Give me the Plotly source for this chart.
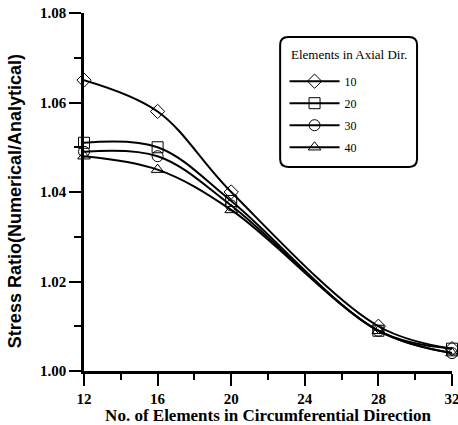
import plotly.graph_objects as go

x_vals = [12, 16, 20, 28, 32]
s10 = [1.065, 1.058, 1.040, 1.010, 1.005]
s20 = [1.051, 1.050, 1.038, 1.009, 1.005]
s30 = [1.049, 1.048, 1.037, 1.009, 1.004]
s40 = [1.048, 1.045, 1.036, 1.009, 1.004]
names = ["10", "20", "30", "40"]
symbols = ["diamond-open", "square-open", "circle-open", "triangle-up-open"]
series = [s10, s20, s30, s40]
legend_title = "Elements in Axial Dir."
x_title = "No. of Elements in Circumferential Direction"
y_title = "Stress Ratio(Numerical/Analytical)"

fig = go.Figure()
for n, s, sym in zip(names, series, symbols):
    fig.add_trace(go.Scatter(
        x=x_vals, y=s, name=n, mode="lines+markers", legendgroup=n,
        cliponaxis=False,
        line=dict(color="black", width=2, shape="spline", smoothing=1.0),
        marker=dict(symbol=sym, size=11, color="black", line=dict(width=1, color="black")),
    ))

serif = "Liberation Serif, Times New Roman, serif"
sans = "Liberation Sans, Arial, sans-serif"

# rounded legend frame (paper coords)
x0, x1, y0, y1 = 0.533, 0.905, 0.570, 0.933
rx, ry = 0.022, 0.022
path = (f"M {x0+rx},{y1} L {x1-rx},{y1} Q {x1},{y1} {x1},{y1-ry} "
        f"L {x1},{y0+ry} Q {x1},{y0} {x1-rx},{y0} L {x0+rx},{y0} "
        f"Q {x0},{y0} {x0},{y0+ry} L {x0},{y1-ry} Q {x0},{y1} {x0+rx},{y1} Z")

fig.update_layout(
    width=458, height=425,
    margin=dict(l=84, r=6, t=13, b=54),
    plot_bgcolor="white", paper_bgcolor="white",
    font=dict(family=serif, color="black"),
    showlegend=True,
    shapes=[dict(type="path", path=path, xref="paper", yref="paper",
                 line=dict(color="black", width=2), fillcolor="rgba(0,0,0,0)", layer="above")],
    annotations=[
        dict(text=legend_title, xref="paper", yref="paper", x=(x0 + x1) / 2, y=0.885,
             xanchor="center", yanchor="middle", showarrow=False,
             font=dict(size=13, family=serif)),
        dict(text="<b>" + y_title + "</b>", xref="paper", yref="paper", x=-0.187, y=0.475,
             xanchor="center", yanchor="middle", showarrow=False, textangle=-90,
             font=dict(size=18, family=sans)),
    ],
    legend=dict(
        x=0.545, y=0.85, xanchor="left", yanchor="top",
        borderwidth=0, bgcolor="rgba(0,0,0,0)",
        font=dict(size=12, family=serif),
        itemwidth=50, tracegroupgap=3,
    ),
    xaxis=dict(
        range=[12, 32], tickvals=[12, 16, 20, 24, 28, 32], automargin=False,
        ticklabeloverflow="allow",
        ticks="outside", ticklen=12, tickwidth=2, tickcolor="black",
        showline=True, linecolor="black", linewidth=2.5, showgrid=False, zeroline=False,
        minor=dict(tickvals=[14, 18, 22, 26, 30], ticks="outside", ticklen=6, tickwidth=2, tickcolor="black"),
        tickfont=dict(size=15, family=serif, weight="bold"),
        title=dict(text="<b>" + x_title + "</b>", font=dict(size=17, family=serif), standoff=2),
    ),
    yaxis=dict(
        range=[1.0, 1.08], tickvals=[1.00, 1.02, 1.04, 1.06, 1.08], tickformat=".2f", automargin=False,
        ticklabeloverflow="allow",
        ticks="outside", ticklen=12, tickwidth=2, tickcolor="black",
        showline=True, linecolor="black", linewidth=2.5, showgrid=False, zeroline=False,
        minor=dict(tickvals=[1.01, 1.03, 1.05, 1.07], ticks="outside", ticklen=7, tickwidth=2, tickcolor="black"),
        tickfont=dict(size=15, family=serif, weight="bold"),
    ),
)
fig.write_html("out.html", config={"displayModeBar": False},
               post_script="document.body.style.margin='0';")
